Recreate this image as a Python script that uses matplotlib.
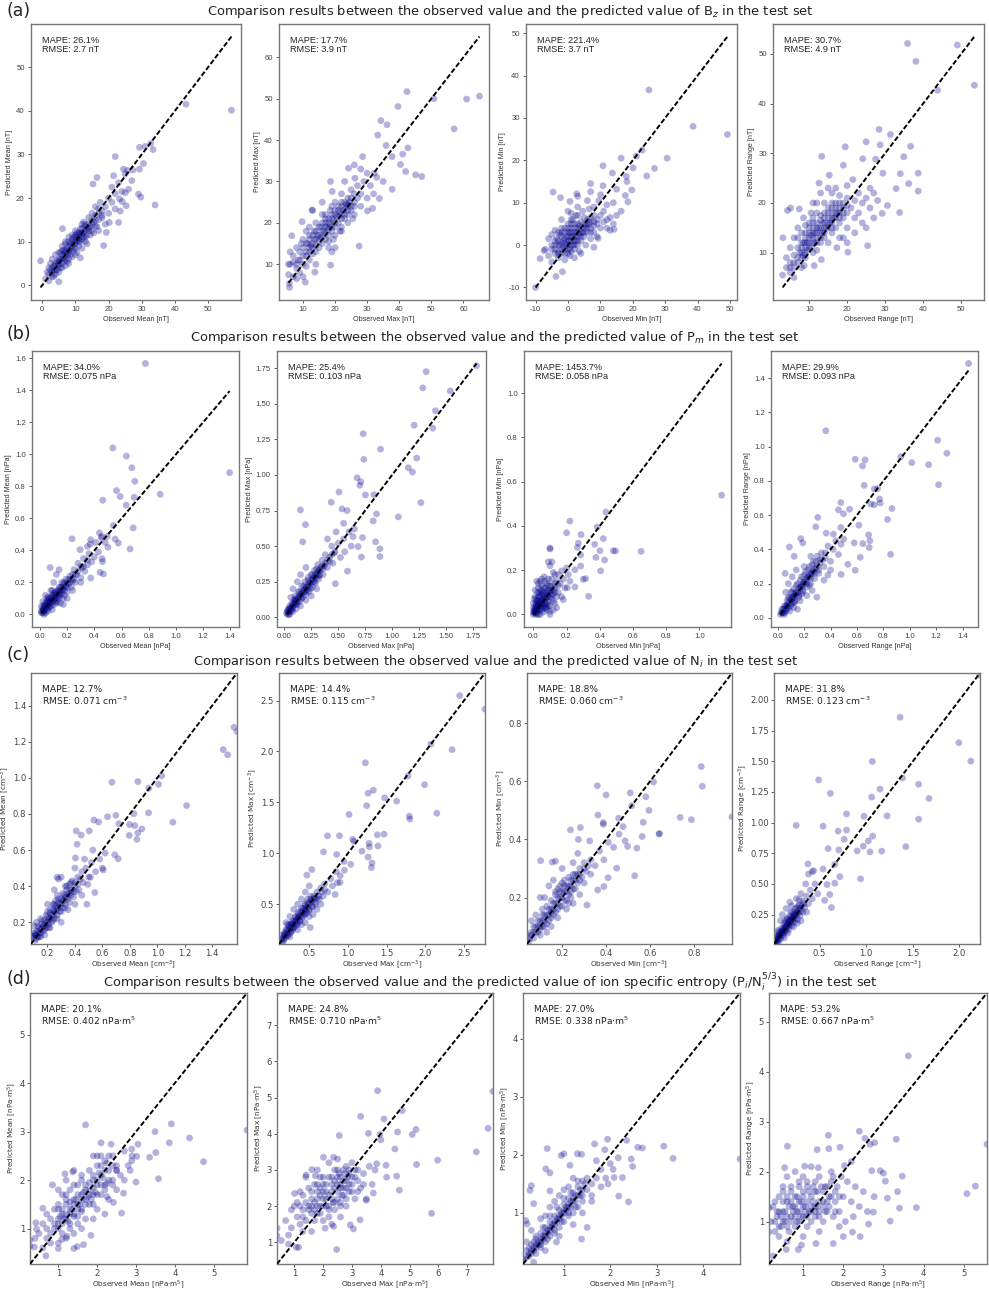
import numpy as np
import matplotlib
matplotlib.use("Agg")
import matplotlib.pyplot as plt
from matplotlib.ticker import MultipleLocator

plt.rcParams['axes.unicode_minus'] = False
plt.rcParams['mathtext.fontset'] = 'dejavusans'

W, H = 989, 1293

# ---------------- data: (observed, predicted) ----------------
bz_mean = [(57, 40.1), (43.3, 41.5), (34.0, 18.4), (33.4, 31.1), (32.7, 32.5), (30.5, 27.9), (29.3, 26.6),
           (29.0, 20.9), (29.7, 20.2), (29.3, 31.6), (31, 31.8), (22.0, 29.5), (25.3, 18.2), (24.1, 19.2),
           (23.0, 14.4), (23.5, 17), (25, 21.2), (24.5, 26.6), (25.7, 26.3), (27.3, 26.4), (21.5, 25.1),
           (18.5, 9.1), (16.5, 24.7), (15.3, 23.2), (-0.5, 5.6), (5.0, 0.8), (6.1, 13.0), (11.5, 6.3),
           (19.3, 12.1), (20.2, 14.4), (23.3, 19.8),
           (1, 1.5), (1.5, 3), (2, 2.5), (2, 4), (2.5, 5), (3, 3), (3, 6), (3.5, 4.5), (4, 5), (4, 7), (4.5, 3.5),
           (5, 6), (5, 4.5), (5.5, 7.5), (6, 5), (6, 8), (6.5, 6.5), (7, 7), (7, 9.5), (7.5, 5.5), (8, 8), (8, 10),
           (8.5, 7), (9, 9), (9, 11.5), (9.5, 8), (10, 10), (10, 12.5), (10.5, 7.5), (11, 11), (11, 9), (11.5, 13),
           (12, 10.5), (12, 12), (12.5, 14.5), (13, 11), (13, 13.5), (13.5, 9.5), (14, 12.5), (14, 15.5),
           (14.5, 11.5), (15, 14), (15, 16.5), (15.5, 12), (16, 15), (16, 18), (16.5, 13.5), (17, 16.5),
           (17, 12.5), (17.5, 19), (18, 15.5), (18, 17), (19, 18), (19, 14), (20, 20), (20, 16.5), (21, 19),
           (21, 22.5), (22, 21), (22, 17.5), (23, 23.5), (24, 21.5), (25, 25.5), (26, 22), (27, 24),
           (2, 1), (3, 2), (4, 3.5), (5, 3), (6, 6), (7, 4.5), (8, 6), (9, 6.5), (10, 8.5), (11, 10), (12, 8.5),
           (13, 10), (3.5, 2), (5, 5), (6, 9), (8, 11), (9, 10), (10, 11), (12, 14), (7, 8), (11, 12)]
bz_mean_core = [(3, 4), (3.5, 3.5), (4, 4.5), (4.5, 5.5), (5, 5.5), (5.5, 6), (5.5, 4), (6, 7), (6.5, 5.5),
                (6.5, 8), (7, 6), (7, 7.5), (7.5, 8.5), (7.5, 7), (8, 9), (8, 7.5), (8.5, 9.5), (8.5, 8), (9, 10.5),
                (9, 8.5), (9.5, 9.5), (9.5, 11), (10, 9.5), (10, 11.5), (10.5, 10.5), (10.5, 12), (11, 11.5),
                (11, 10.5), (11.5, 12), (11.5, 10), (12, 11.5), (12, 13), (12.5, 12), (12.5, 11), (13, 12.5),
                (13, 14), (13.5, 13), (13.5, 11.5), (14, 14), (14, 13), (14.5, 13.5), (15, 15), (15, 12.5),
                (15.5, 14.5), (16, 16), (16, 13.5), (17, 15), (17, 17.5), (18, 16), (6, 4), (4, 2.5), (2.5, 3.5),
                (8, 5), (10, 7), (7, 10), (5, 7.5)]

bz_max = [(65.0, 50.6), (61.0, 49.9), (57.1, 42.7), (50.8, 50), (42.4, 51.7), (39.6, 48.1), (42.7, 38.1),
          (41.1, 36.6), (40.4, 34.1), (42.0, 32.4), (45.1, 31.6), (47.0, 31.2), (34.3, 44.7), (36.2, 43.7),
          (33.3, 41.2), (35.9, 38.7), (37.8, 36), (37.8, 28.1), (33.8, 25.9), (31.7, 23.5), (30.1, 22.9),
          (27.5, 14.4), (18.6, 9.8), (10.7, 5.7), (13.7, 8.1), (5.8, 5.4), (5.8, 4.4), (6.5, 16.9), (18.6, 30),
          (12.8, 23.1), (9.7, 20.3), (24.2, 33.2), (28.6, 36), (26.2, 30.8), (32.2, 32), (19.1, 27.6),
          (6, 10), (6, 13), (7, 7), (7, 12), (8, 9), (8, 14), (8.5, 11), (9, 8), (9, 13), (9.5, 15), (10, 10),
          (10, 12), (10, 16), (11, 9.5), (11, 13), (11.5, 15), (12, 11), (12, 14), (12, 17), (13, 12.5),
          (13, 15), (13.5, 18), (14, 13), (14, 16), (14, 20), (15, 14), (15, 17), (15.5, 19), (16, 15),
          (16, 18), (16, 22), (17, 16), (17, 19), (17, 21), (18, 17), (18, 20), (18.5, 23), (19, 18), (19, 21),
          (19.5, 16), (20, 19), (20, 22), (20, 25), (21, 20), (21, 23), (21.5, 18), (22, 21), (22, 24),
          (22, 27), (23, 22), (23, 25), (24, 20), (24, 23), (24, 26), (25, 24), (25, 28), (25.5, 21), (26, 25),
          (26, 22), (27, 26), (27, 29), (28, 24), (28, 27), (29, 30), (30, 26), (31, 29), (32, 27), (33, 31),
          (35, 30), (30, 32), (26, 34), (28, 33), (23, 30), (13, 23), (16, 25), (14, 10), (19, 13), (20, 14),
          (22, 18), (10, 7), (8, 6.5), (5.5, 10), (5.5, 7.5), (7, 10.5), (12, 19), (11, 18), (18, 14)]
bz_max_core = [(12, 13), (12.5, 14.5), (13, 14), (13.5, 16), (14, 14.5), (14.5, 17), (15, 15.5), (15, 19),
               (15.5, 16.5), (16, 16.5), (16, 20), (16.5, 18), (17, 17.5), (17, 20), (17.5, 19), (18, 18.5),
               (18, 21), (18.5, 19.5), (19, 19), (19, 22), (19.5, 20.5), (20, 20), (20, 23), (20.5, 21.5),
               (21, 21.5), (21, 24), (21.5, 22.5), (22, 22), (22, 25), (22.5, 23), (23, 23.5), (23, 21),
               (23.5, 24.5), (24, 24), (24, 22), (24.5, 25), (25, 23), (25, 26), (26, 24), (26, 27), (14, 18),
               (13, 17), (11, 15), (12, 16), (10, 14), (18, 15.5), (20, 17), (22, 19), (24, 24.5), (17, 22),
               (19, 24), (11, 12), (9, 11), (8, 10)]

bz_min = [(-10, -10), (49.2, 26.1), (38.6, 28), (25, 36.6), (30.6, 20.5), (26.7, 18.1), (24.3, 16.3),
          (22.9, 22.4), (21.1, 21), (20.1, 18.2), (19.7, 13), (18.5, 10.2), (18.2, 15), (18, 16.2),
          (16.4, 20.5), (16.4, 8), (17.7, 11.7), (15, 13.2), (13.7, 17), (10.8, 18.7), (10.8, 14), (7, 14.5),
          (7, 12.6), (2.7, 12.1), (0.6, 10.3), (-2.3, 11.2), (-4.6, 12.5), (-3.7, -7.4), (-1.7, -6.3),
          (-8.6, -3.2), (-7.4, -1.3), (9.3, 1.6), (14.2, 3.7), (12.1, 6), (10.1, 11.9),
          (-5, 0), (-5, 2.5), (-4, -2), (-4, 1), (-3, -3), (-3, 0), (-3, 3), (-2, -1), (-2, 2), (-2, 4),
          (-1, -2), (-1, 0.5), (-1, 3), (0, -1), (0, 1), (0, 3), (0, 5), (0.5, -2.5), (1, 0), (1, 2), (1, 4),
          (1.5, 6), (2, -1), (2, 1), (2, 3), (2, 5), (2.5, 7), (3, 0), (3, 2), (3, 4), (3.5, -1.5), (4, 1),
          (4, 3), (4, 5.5), (4.5, 8), (5, 2), (5, 4), (5, 6.5), (5.5, 0), (6, 3), (6, 5), (6.5, 8.5), (7, 1.5),
          (7, 4), (7, 6.5), (8, 3), (8, 5.5), (8, 9), (9, 2), (9, 6), (9.5, 10.5), (10, 4), (10, 7), (11, 5.5),
          (11, 8), (12, 4), (12, 9.5), (13, 6.5), (13, 3.5), (14, 5), (14, 10), (15, 7), (-6, -2.5), (-5, -4),
          (-1, -3.5), (2, -3), (-7, -1), (-6, 1.5), (-2, 6), (0, 8), (3, 9), (6, 10.5), (8, -0.5), (4, -2),
          (-4, 3.5), (1, 7.5), (3, 11.5)]
bz_min_core = [(-4, -1), (-4, 0), (-3.5, 1.5), (-3, -1.5), (-3, 1), (-2.5, 0), (-2.5, 2.5), (-2, -2),
               (-2, 0.5), (-2, 3), (-1.5, 1), (-1.5, -0.5), (-1, 1.5), (-1, 4), (-0.5, 0), (-0.5, 2), (0, 0),
               (0, 2), (0, 4), (0.5, 1), (0.5, 3), (0.5, -1), (1, 1), (1, 3), (1, 5), (1.5, 2), (1.5, 0), (2, 2),
               (2, 4), (2, 0), (2.5, 3), (2.5, 1), (3, 3), (3, 5), (3, 1), (3.5, 2.5), (3.5, 4.5), (4, 4), (4, 2),
               (4.5, 3), (5, 5), (5, 3), (5.5, 4.5), (6, 4), (6, 6), (6.5, 5), (7, 3), (7, 5.5), (8, 4.5), (8, 7),
               (9, 5), (-1, -1), (0, -2), (1, -1.5), (-3, -2), (-5, -1), (3, 7), (1, 6)]

bz_range = [(35.9, 52.1), (49, 51.8), (38.1, 48.5), (43.8, 42.7), (53.5, 43.7), (28.4, 34.8), (31.4, 33.8),
            (25, 32.3), (19.5, 31.3), (13.3, 29.4), (28.7, 31.7), (36.7, 31.4), (34.9, 29.3), (19, 27.6),
            (24.1, 28.9), (27.5, 28.8), (29.4, 26), (34, 25.9), (38.7, 26), (38.7, 22.4), (36.2, 23.9),
            (32.9, 22.9), (33.8, 18.1), (29.2, 17.9), (30.6, 19.5), (25.4, 11.4), (20.2, 10.1), (17.3, 11),
            (13.2, 8.6), (8.7, 7.4), (11.3, 7.4), (3.1, 13), (4.3, 18.5), (5.1, 19), (7.4, 18.8), (12.6, 24),
            (15.3, 25.6), (21.5, 24.7),
            (3, 5.5), (4, 7), (4, 9), (5, 6), (5, 8), (5, 11), (6, 7), (6, 9.5), (6, 13), (7, 8), (7, 11), (7, 15),
            (8, 9), (8, 12), (8, 14), (8.5, 17), (9, 10), (9, 13), (9, 15.5), (10, 11), (10, 13), (10, 15),
            (10.5, 18), (11, 12), (11, 14), (11, 16), (12, 10.5), (12, 13), (12, 15), (12, 18), (13, 12),
            (13, 14), (13, 16.5), (14, 13), (14, 15), (14, 17), (14, 20), (15, 12), (15, 16), (15, 18), (16, 14),
            (16, 17), (16, 19), (16, 22), (17, 15), (17, 18), (17, 20), (18, 16), (18, 19), (18, 21.5), (19, 13),
            (19, 17), (19, 20), (20, 18), (20, 21), (20, 15), (21, 19), (22, 17), (22, 20.5), (23, 22), (23, 18),
            (24, 20), (24, 16), (25, 21), (26, 23), (26, 19), (27, 22), (28, 20.5), (27, 17), (25, 15), (22, 14),
            (20, 12), (18, 13), (11, 20), (13, 22), (15, 23), (9, 12), (11, 10), (8, 7), (6, 5), (17, 23),
            (20, 23.5)]
bz_range_core = [(7, 9), (7.5, 10), (8, 10), (8, 11), (8.5, 12), (8.5, 9.5), (9, 11), (9, 14), (9.5, 12),
                 (9.5, 10.5), (10, 12), (10, 14), (10, 16), (10.5, 11), (10.5, 13.5), (11, 13), (11, 15), (11, 17),
                 (11.5, 12), (11.5, 14), (12, 14), (12, 16), (12, 12), (12.5, 15), (13, 13), (13, 15), (13, 17.5),
                 (13.5, 14), (13.5, 16), (14, 14), (14, 16), (14, 18), (14.5, 15), (15, 15), (15, 17), (15, 19),
                 (15.5, 16), (16, 16), (16, 18), (16, 20), (16.5, 17), (17, 17), (17, 19), (17.5, 18), (18, 18),
                 (18, 20), (19, 19), (19, 18), (20, 19.5), (9, 9), (6, 8), (5, 7), (7, 13), (12, 20), (16, 15),
                 (18, 17)]

pm_mean = [(0.776, 1.568), (1.396, 0.886), (0.536, 1.041), (0.636, 0.99), (0.676, 0.917), (0.698, 0.832),
           (0.563, 0.774), (0.59, 0.737), (0.693, 0.732), (0.885, 0.751), (0.462, 0.714), (0.634, 0.683),
           (0.686, 0.541), (0.54, 0.556), (0.553, 0.471), (0.577, 0.446), (0.663, 0.409), (0.236, 0.473),
           (0.437, 0.51), (0.455, 0.488), (0.496, 0.488), (0.457, 0.349), (0.467, 0.253), (0.442, 0.263),
           (0.373, 0.228), (0.074, 0.293), (0.172, 0.062), (0.373, 0.467), (0.349, 0.425), (0.295, 0.405),
           (0.01, 0.01), (0.02, 0.03), (0.03, 0.02), (0.03, 0.05), (0.04, 0.04), (0.05, 0.06), (0.05, 0.03),
           (0.06, 0.08), (0.07, 0.05), (0.07, 0.1), (0.08, 0.07), (0.09, 0.12), (0.1, 0.09), (0.1, 0.06),
           (0.11, 0.14), (0.12, 0.1), (0.13, 0.13), (0.13, 0.08), (0.14, 0.17), (0.15, 0.12), (0.16, 0.15),
           (0.16, 0.2), (0.17, 0.1), (0.18, 0.17), (0.19, 0.22), (0.2, 0.14), (0.21, 0.19), (0.22, 0.24),
           (0.23, 0.17), (0.24, 0.21), (0.25, 0.28), (0.26, 0.2), (0.27, 0.25), (0.28, 0.32), (0.3, 0.23),
           (0.31, 0.29), (0.32, 0.35), (0.33, 0.27), (0.35, 0.31), (0.36, 0.38), (0.37, 0.44), (0.38, 0.33),
           (0.4, 0.36), (0.41, 0.45), (0.43, 0.39), (0.45, 0.48), (0.46, 0.33), (0.48, 0.45), (0.5, 0.42),
           (0.08, 0.15), (0.1, 0.2), (0.12, 0.25), (0.14, 0.28), (0.02, 0.08), (0.04, 0.12), (0.06, 0.02),
           (0.09, 0.03), (0.15, 0.07), (0.2, 0.1), (0.24, 0.15), (0.3, 0.2), (0.05, 0.1), (0.01, 0.05),
           (0.03, 0.0), (0.06, 0.04), (0.11, 0.08), (0.02, 0.01)]
pm_mean_core = [(0.01, 0.02), (0.02, 0.02), (0.02, 0.04), (0.03, 0.03), (0.03, 0.06), (0.04, 0.05),
                (0.04, 0.07), (0.05, 0.05), (0.05, 0.08), (0.06, 0.06), (0.06, 0.09), (0.07, 0.07), (0.07, 0.08),
                (0.08, 0.09), (0.08, 0.11), (0.09, 0.08), (0.09, 0.1), (0.1, 0.11), (0.1, 0.13), (0.11, 0.1),
                (0.11, 0.12), (0.12, 0.12), (0.12, 0.14), (0.13, 0.11), (0.13, 0.15), (0.14, 0.13), (0.14, 0.15),
                (0.15, 0.14), (0.15, 0.17), (0.16, 0.13), (0.16, 0.17), (0.17, 0.16), (0.17, 0.19), (0.18, 0.15),
                (0.18, 0.2), (0.19, 0.18), (0.2, 0.2), (0.2, 0.17), (0.21, 0.22), (0.22, 0.2), (0.23, 0.22),
                (0.24, 0.25), (0.25, 0.22), (0.26, 0.25), (0.28, 0.27), (0.3, 0.3), (0.32, 0.3), (0.35, 0.34),
                (0.04, 0.01), (0.08, 0.05), (0.12, 0.07), (0.06, 0.11), (0.09, 0.15), (0.14, 0.1), (0.18, 0.12)]

pm_max = [(1.782, 1.767), (1.315, 1.725), (1.284, 1.611), (1.539, 1.59), (1.402, 1.45), (1.377, 1.328),
          (1.203, 1.349), (1.228, 1.118), (1.15, 1.05), (1.188, 1.02), (1.266, 0.805), (1.057, 0.705),
          (0.731, 1.289), (0.892, 1.181), (0.737, 1.109), (0.675, 0.98), (0.709, 0.952), (0.7, 0.927),
          (0.752, 0.859), (0.83, 0.861), (0.507, 0.88), (0.435, 0.808), (0.535, 0.761), (0.582, 0.749),
          (0.149, 0.754), (0.196, 0.651), (0.171, 0.53), (0.855, 0.726), (0.824, 0.677), (0.846, 0.53),
          (0.886, 0.481), (0.886, 0.427), (0.715, 0.423), (0.585, 0.324), (0.473, 0.236), (0.637, 0.567),
          (0.725, 0.56), (0.684, 0.497),
          (0.02, 0.03), (0.03, 0.05), (0.04, 0.02), (0.05, 0.08), (0.06, 0.05), (0.07, 0.1), (0.08, 0.07),
          (0.09, 0.12), (0.1, 0.09), (0.1, 0.15), (0.11, 0.06), (0.12, 0.13), (0.13, 0.18), (0.14, 0.11),
          (0.15, 0.16), (0.16, 0.22), (0.17, 0.14), (0.18, 0.19), (0.19, 0.25), (0.2, 0.16), (0.21, 0.21),
          (0.22, 0.28), (0.23, 0.18), (0.24, 0.24), (0.25, 0.3), (0.26, 0.21), (0.27, 0.27), (0.28, 0.33),
          (0.29, 0.24), (0.3, 0.3), (0.31, 0.37), (0.32, 0.27), (0.33, 0.33), (0.35, 0.4), (0.36, 0.3),
          (0.37, 0.36), (0.38, 0.44), (0.4, 0.35), (0.42, 0.42), (0.44, 0.5), (0.45, 0.38), (0.47, 0.46),
          (0.5, 0.52), (0.52, 0.42), (0.55, 0.55), (0.56, 0.46), (0.6, 0.6), (0.62, 0.5), (0.65, 0.62),
          (0.06, 0.14), (0.08, 0.2), (0.12, 0.25), (0.15, 0.3), (0.2, 0.35), (0.05, 0.02), (0.15, 0.08),
          (0.2, 0.12), (0.3, 0.2), (0.25, 0.15), (0.4, 0.55), (0.48, 0.6), (0.55, 0.66), (0.03, 0.02),
          (0.04, 0.06), (0.08, 0.04), (0.11, 0.1)]
pm_max_core = [(0.03, 0.04), (0.04, 0.04), (0.05, 0.06), (0.06, 0.07), (0.07, 0.07), (0.08, 0.09), (0.09, 0.09),
               (0.1, 0.11), (0.11, 0.12), (0.12, 0.11), (0.13, 0.14), (0.14, 0.15), (0.15, 0.14), (0.16, 0.17),
               (0.17, 0.18), (0.18, 0.17), (0.19, 0.2), (0.2, 0.21), (0.21, 0.19), (0.22, 0.23), (0.23, 0.24),
               (0.24, 0.22), (0.25, 0.26), (0.26, 0.27), (0.27, 0.25), (0.28, 0.29), (0.29, 0.3), (0.3, 0.28),
               (0.31, 0.32), (0.32, 0.33), (0.33, 0.3), (0.34, 0.35), (0.35, 0.36), (0.36, 0.34), (0.38, 0.38),
               (0.4, 0.4), (0.42, 0.39), (0.44, 0.44), (0.46, 0.45), (0.1, 0.13), (0.14, 0.18), (0.18, 0.22),
               (0.22, 0.26), (0.26, 0.3), (0.3, 0.34), (0.12, 0.09), (0.16, 0.13), (0.2, 0.18), (0.24, 0.2),
               (0.28, 0.25), (0.32, 0.29), (0.07, 0.05), (0.05, 0.04), (0.09, 0.1)]

pm_min = [(1.134, 0.539), (0.437, 0.463), (0.385, 0.395), (0.22, 0.422), (0.2, 0.369), (0.287, 0.361),
          (0.271, 0.322), (0.265, 0.303), (0.285, 0.269), (0.421, 0.343), (0.401, 0.288), (0.377, 0.258),
          (0.429, 0.246), (0.405, 0.197), (0.369, 0.317), (0.481, 0.288), (0.495, 0.287), (0.649, 0.285),
          (0.333, 0.082), (0.285, 0.219), (0.25, 0.202), (0.3, 0.159), (0.315, 0.162), (0.25, 0.124),
          (0.1, 0.296), (0.112, 0.238), (0.09, 0.238), (0.17, 0.197), (0.204, 0.121), (0.18, 0.067),
          (0.1, 0.014),
          (0.0, 0.0), (0.005, 0.01), (0.01, 0.02), (0.01, 0.005), (0.015, 0.04), (0.02, 0.01), (0.02, 0.06),
          (0.02, 0.03), (0.025, 0.1), (0.03, 0.02), (0.03, 0.05), (0.03, 0.12), (0.035, 0.08), (0.04, 0.03),
          (0.04, 0.15), (0.045, 0.06), (0.05, 0.1), (0.05, 0.02), (0.055, 0.04), (0.06, 0.07), (0.06, 0.12),
          (0.065, 0.17), (0.07, 0.05), (0.07, 0.09), (0.075, 0.03), (0.08, 0.08), (0.08, 0.14), (0.085, 0.11),
          (0.09, 0.06), (0.09, 0.16), (0.1, 0.1), (0.1, 0.04), (0.11, 0.13), (0.11, 0.07), (0.12, 0.19),
          (0.12, 0.09), (0.13, 0.12), (0.13, 0.05), (0.14, 0.15), (0.15, 0.1), (0.15, 0.18), (0.16, 0.14),
          (0.17, 0.08), (0.18, 0.16), (0.19, 0.12), (0.2, 0.21), (0.21, 0.18), (0.22, 0.15), (0.005, 0.07),
          (0.01, 0.11), (0.02, 0.15), (0.0, 0.03), (0.04, 0.0), (0.06, 0.01), (0.08, 0.02), (0.12, 0.02),
          (0.14, 0.03), (0.1, 0.0), (0.03, 0.0), (0.05, 0.05), (0.07, 0.07), (0.02, 0.02), (0.04, 0.04),
          (0.09, 0.09), (0.11, 0.16), (0.13, 0.18), (0.1, 0.22), (0.1, 0.3)]
pm_min_core = [(0.0, 0.01), (0.005, 0.02), (0.01, 0.01), (0.01, 0.03), (0.015, 0.02), (0.015, 0.05), (0.02, 0.04),
               (0.02, 0.07), (0.025, 0.03), (0.025, 0.06), (0.03, 0.04), (0.03, 0.08), (0.035, 0.05),
               (0.035, 0.1), (0.04, 0.06), (0.04, 0.09), (0.045, 0.04), (0.045, 0.11), (0.05, 0.07),
               (0.05, 0.13), (0.055, 0.06), (0.055, 0.09), (0.06, 0.05), (0.06, 0.1), (0.065, 0.08), (0.07, 0.12),
               (0.07, 0.04), (0.075, 0.07), (0.08, 0.1), (0.08, 0.05), (0.085, 0.08), (0.09, 0.11), (0.09, 0.04),
               (0.1, 0.08), (0.1, 0.13), (0.11, 0.09), (0.12, 0.11), (0.12, 0.06), (0.13, 0.1), (0.14, 0.08),
               (0.02, 0.0), (0.04, 0.02), (0.06, 0.03), (0.08, 0.03), (0.0, 0.05), (0.01, 0.08), (0.03, 0.14),
               (0.05, 0.16), (0.07, 0.15), (0.09, 0.13), (0.11, 0.11), (0.13, 0.14), (0.15, 0.13)]

pm_range = [(1.446, 1.486), (1.211, 1.038), (1.282, 0.962), (1.143, 0.895), (1.016, 0.907), (0.933, 0.942),
            (1.219, 0.778), (0.364, 1.093), (0.587, 0.927), (0.662, 0.923), (0.642, 0.888), (0.655, 0.774),
            (0.731, 0.753), (0.756, 0.755), (0.771, 0.694), (0.776, 0.671), (0.705, 0.665), (0.731, 0.661),
            (0.865, 0.639), (0.832, 0.575), (0.478, 0.674), (0.46, 0.631), (0.544, 0.635), (0.498, 0.608),
            (0.303, 0.587), (0.288, 0.532), (0.367, 0.495), (0.422, 0.489), (0.478, 0.528), (0.614, 0.542),
            (0.688, 0.485), (0.698, 0.45), (0.693, 0.411), (0.625, 0.354), (0.855, 0.371), (0.587, 0.278),
            (0.579, 0.438), (0.645, 0.434), (0.174, 0.463), (0.19, 0.438), (0.088, 0.414), (0.124, 0.36),
            (0.056, 0.26), (0.296, 0.121), (0.48, 0.254), (0.531, 0.313),
            (0.02, 0.02), (0.03, 0.05), (0.04, 0.03), (0.05, 0.07), (0.06, 0.04), (0.07, 0.1), (0.08, 0.06),
            (0.09, 0.12), (0.1, 0.08), (0.1, 0.15), (0.11, 0.11), (0.12, 0.17), (0.13, 0.09), (0.14, 0.14),
            (0.15, 0.2), (0.16, 0.12), (0.17, 0.18), (0.18, 0.24), (0.19, 0.15), (0.2, 0.21), (0.21, 0.27),
            (0.22, 0.18), (0.23, 0.24), (0.24, 0.3), (0.25, 0.2), (0.26, 0.26), (0.27, 0.33), (0.28, 0.23),
            (0.29, 0.29), (0.3, 0.36), (0.31, 0.26), (0.32, 0.32), (0.33, 0.38), (0.35, 0.3), (0.36, 0.35),
            (0.38, 0.42), (0.4, 0.33), (0.42, 0.4), (0.44, 0.45), (0.46, 0.37), (0.48, 0.43), (0.5, 0.46),
            (0.06, 0.15), (0.08, 0.2), (0.11, 0.24), (0.14, 0.28), (0.05, 0.02), (0.12, 0.06), (0.17, 0.1),
            (0.22, 0.13), (0.26, 0.16), (0.2, 0.3), (0.25, 0.36), (0.15, 0.05), (0.09, 0.04), (0.03, 0.03),
            (0.07, 0.07), (0.13, 0.13), (0.19, 0.19), (0.35, 0.22), (0.4, 0.28), (0.38, 0.25)]
pm_range_core = [(0.03, 0.03), (0.04, 0.05), (0.05, 0.05), (0.06, 0.07), (0.07, 0.07), (0.08, 0.09), (0.09, 0.09),
                 (0.1, 0.11), (0.11, 0.12), (0.12, 0.12), (0.13, 0.14), (0.14, 0.15), (0.15, 0.15), (0.16, 0.17),
                 (0.17, 0.18), (0.18, 0.18), (0.19, 0.2), (0.2, 0.21), (0.21, 0.21), (0.22, 0.23), (0.23, 0.24),
                 (0.24, 0.24), (0.25, 0.26), (0.26, 0.27), (0.27, 0.27), (0.28, 0.29), (0.3, 0.3), (0.32, 0.34),
                 (0.34, 0.34), (0.36, 0.38), (0.08, 0.12), (0.11, 0.15), (0.14, 0.19), (0.17, 0.22), (0.2, 0.25),
                 (0.23, 0.28), (0.26, 0.31), (0.29, 0.33), (0.1, 0.07), (0.13, 0.1), (0.16, 0.13), (0.19, 0.16),
                 (0.22, 0.2), (0.25, 0.23), (0.28, 0.26), (0.31, 0.28), (0.05, 0.03), (0.07, 0.05), (0.12, 0.09),
                 (0.18, 0.14), (0.24, 0.19)]

ni_mean = [(1.58, 1.256), (1.558, 1.28), (1.48, 1.156), (1.512, 1.127), (1.213, 0.846), (1.113, 0.754),
           (1.031, 1.011), (1.009, 0.964), (0.938, 0.942), (0.858, 0.979), (0.669, 0.975), (0.936, 0.806),
           (0.887, 0.717), (0.858, 0.695), (0.851, 0.659), (0.836, 0.735), (0.829, 0.801), (0.798, 0.741),
           (0.698, 0.792), (0.637, 0.784), (0.538, 0.766), (0.572, 0.755), (0.504, 0.706), (0.409, 0.706),
           (0.445, 0.683), (0.416, 0.632), (0.404, 0.556), (0.715, 0.552), (0.69, 0.574), (0.72, 0.746),
           (0.795, 0.681), (0.606, 0.49), (0.62, 0.583), (0.487, 0.3), (0.545, 0.365), (0.513, 0.45),
           (0.494, 0.41), (0.27, 0.45),
           (0.09, 0.12), (0.1, 0.14), (0.11, 0.1), (0.12, 0.15), (0.13, 0.12), (0.14, 0.17), (0.15, 0.14),
           (0.16, 0.19), (0.17, 0.15), (0.18, 0.21), (0.19, 0.17), (0.2, 0.23), (0.21, 0.19), (0.22, 0.25),
           (0.23, 0.2), (0.24, 0.27), (0.25, 0.22), (0.26, 0.29), (0.27, 0.24), (0.28, 0.31), (0.29, 0.26),
           (0.3, 0.33), (0.31, 0.28), (0.32, 0.35), (0.33, 0.3), (0.34, 0.38), (0.35, 0.33), (0.36, 0.41),
           (0.37, 0.35), (0.38, 0.43), (0.39, 0.37), (0.4, 0.4), (0.42, 0.45), (0.43, 0.38), (0.45, 0.48),
           (0.46, 0.42), (0.48, 0.5), (0.5, 0.45), (0.52, 0.53), (0.55, 0.48), (0.58, 0.55), (0.6, 0.5),
           (0.28, 0.44), (0.3, 0.45), (0.25, 0.38), (0.2, 0.3), (0.15, 0.22), (0.12, 0.2), (0.1, 0.18),
           (0.3, 0.2), (0.35, 0.27), (0.4, 0.3), (0.45, 0.35), (0.22, 0.17), (0.18, 0.13), (0.14, 0.12),
           (0.24, 0.3), (0.33, 0.4), (0.27, 0.35), (0.4, 0.5), (0.47, 0.55), (0.53, 0.6), (0.08, 0.13)]
ni_mean_core = [(0.1, 0.12), (0.11, 0.13), (0.12, 0.13), (0.13, 0.15), (0.14, 0.14), (0.15, 0.16), (0.16, 0.17),
                (0.17, 0.18), (0.18, 0.18), (0.19, 0.2), (0.2, 0.2), (0.21, 0.22), (0.22, 0.22), (0.23, 0.24),
                (0.24, 0.24), (0.25, 0.26), (0.26, 0.26), (0.27, 0.28), (0.28, 0.28), (0.29, 0.3), (0.3, 0.3),
                (0.31, 0.32), (0.32, 0.32), (0.33, 0.34), (0.34, 0.34), (0.35, 0.36), (0.36, 0.36), (0.37, 0.38),
                (0.38, 0.38), (0.4, 0.42), (0.42, 0.41), (0.44, 0.44), (0.13, 0.18), (0.16, 0.21), (0.19, 0.24),
                (0.22, 0.27), (0.25, 0.3), (0.28, 0.33), (0.31, 0.36), (0.34, 0.4), (0.37, 0.42), (0.15, 0.12),
                (0.18, 0.16), (0.21, 0.17), (0.24, 0.21), (0.27, 0.22), (0.3, 0.26), (0.33, 0.28), (0.36, 0.31),
                (0.39, 0.34), (0.41, 0.37), (0.12, 0.11), (0.2, 0.26), (0.26, 0.32)]

ni_max = [(2.77, 2.416), (2.444, 2.548), (2.345, 2.018), (2.071, 2.072), (1.989, 1.674), (2.148, 1.394),
          (1.792, 1.365), (1.8, 1.336), (1.775, 1.76), (1.629, 1.513), (1.474, 1.545), (1.328, 1.619),
          (1.26, 1.59), (1.242, 1.468), (1.225, 1.889), (1.015, 1.381), (1.466, 1.188), (1.38, 1.182),
          (1.388, 1.072), (1.273, 1.098), (1.277, 1.063), (1.26, 0.963), (1.303, 0.86), (1.311, 0.905),
          (1.182, 1.021), (1.079, 1.117), (1.062, 1.137), (1.036, 0.892), (0.955, 0.834), (0.856, 0.989),
          (0.891, 1.172), (0.736, 1.172), (0.685, 1.014), (0.899, 0.715), (0.835, 0.596), (0.865, 0.712),
          (0.513, 0.272), (0.47, 0.786), (0.534, 0.841),
          (0.11, 0.13), (0.13, 0.15), (0.15, 0.2), (0.17, 0.14), (0.18, 0.22), (0.2, 0.18), (0.21, 0.25),
          (0.23, 0.2), (0.24, 0.28), (0.26, 0.23), (0.27, 0.31), (0.29, 0.26), (0.3, 0.34), (0.32, 0.28),
          (0.33, 0.37), (0.35, 0.31), (0.36, 0.4), (0.38, 0.34), (0.39, 0.43), (0.41, 0.37), (0.42, 0.46),
          (0.44, 0.4), (0.45, 0.49), (0.47, 0.42), (0.48, 0.52), (0.5, 0.45), (0.52, 0.55), (0.54, 0.48),
          (0.56, 0.58), (0.58, 0.5), (0.6, 0.62), (0.63, 0.55), (0.65, 0.66), (0.68, 0.58), (0.7, 0.7),
          (0.74, 0.62), (0.78, 0.75), (0.8, 0.68), (0.85, 0.82), (0.9, 0.78), (0.95, 0.92), (0.3, 0.45),
          (0.35, 0.5), (0.4, 0.55), (0.25, 0.38), (0.2, 0.32), (0.45, 0.62), (0.5, 0.68), (0.35, 0.25),
          (0.45, 0.32), (0.55, 0.4), (0.6, 0.45), (0.25, 0.18), (0.4, 0.3), (0.18, 0.16), (0.28, 0.24),
          (0.5, 0.38), (0.65, 0.5), (0.15, 0.13), (0.22, 0.3), (0.32, 0.33)]
ni_max_core = [(0.15, 0.16), (0.17, 0.18), (0.19, 0.2), (0.21, 0.22), (0.23, 0.24), (0.25, 0.26), (0.27, 0.27),
               (0.29, 0.3), (0.31, 0.31), (0.33, 0.34), (0.35, 0.35), (0.37, 0.38), (0.39, 0.39), (0.41, 0.42),
               (0.43, 0.43), (0.45, 0.46), (0.47, 0.47), (0.49, 0.5), (0.51, 0.51), (0.53, 0.53), (0.55, 0.55),
               (0.57, 0.56), (0.2, 0.25), (0.24, 0.3), (0.28, 0.33), (0.32, 0.38), (0.36, 0.42), (0.4, 0.46),
               (0.44, 0.5), (0.48, 0.55), (0.22, 0.19), (0.26, 0.22), (0.3, 0.27), (0.34, 0.3), (0.38, 0.33),
               (0.42, 0.38), (0.46, 0.41), (0.5, 0.44), (0.54, 0.47), (0.58, 0.52), (0.62, 0.58), (0.66, 0.62),
               (0.7, 0.64), (0.18, 0.2), (0.27, 0.3), (0.36, 0.37), (0.45, 0.44), (0.52, 0.58), (0.6, 0.56)]

ni_min = [(0.973, 0.478), (0.833, 0.651), (0.838, 0.583), (0.737, 0.476), (0.788, 0.468), (0.616, 0.598),
          (0.595, 0.5), (0.581, 0.547), (0.569, 0.459), (0.564, 0.41), (0.641, 0.419), (0.517, 0.516),
          (0.51, 0.56), (0.4, 0.553), (0.36, 0.585), (0.363, 0.484), (0.387, 0.458), (0.387, 0.452),
          (0.457, 0.473), (0.477, 0.444), (0.486, 0.395), (0.459, 0.418), (0.498, 0.376), (0.54, 0.37),
          (0.53, 0.275), (0.643, 0.42), (0.434, 0.373), (0.448, 0.301), (0.409, 0.268), (0.39, 0.238),
          (0.362, 0.226), (0.238, 0.433), (0.283, 0.441), (0.274, 0.4), (0.271, 0.352), (0.325, 0.395),
          (0.102, 0.327), (0.155, 0.322), (0.17, 0.325), (0.313, 0.174),
          (0.05, 0.06), (0.06, 0.08), (0.07, 0.06), (0.08, 0.1), (0.09, 0.08), (0.1, 0.12), (0.11, 0.1),
          (0.12, 0.14), (0.13, 0.11), (0.14, 0.16), (0.15, 0.13), (0.16, 0.18), (0.17, 0.15), (0.18, 0.2),
          (0.19, 0.17), (0.2, 0.22), (0.21, 0.19), (0.22, 0.24), (0.23, 0.21), (0.24, 0.26), (0.25, 0.23),
          (0.26, 0.28), (0.27, 0.25), (0.28, 0.3), (0.29, 0.27), (0.3, 0.32), (0.31, 0.29), (0.33, 0.33),
          (0.35, 0.31), (0.37, 0.36), (0.39, 0.33), (0.41, 0.39), (0.12, 0.2), (0.14, 0.24), (0.16, 0.26),
          (0.2, 0.3), (0.25, 0.32), (0.22, 0.16), (0.25, 0.18), (0.28, 0.21), (0.18, 0.13), (0.15, 0.1),
          (0.1, 0.07), (0.08, 0.14), (0.1, 0.2), (0.06, 0.12), (0.13, 0.08), (0.17, 0.22), (0.21, 0.26),
          (0.24, 0.2), (0.3, 0.25), (0.33, 0.28), (0.04, 0.07), (0.11, 0.16), (0.19, 0.24)]
ni_min_core = [(0.06, 0.07), (0.07, 0.08), (0.08, 0.08), (0.09, 0.1), (0.1, 0.1), (0.11, 0.12), (0.12, 0.12),
               (0.13, 0.14), (0.14, 0.14), (0.15, 0.16), (0.16, 0.16), (0.17, 0.18), (0.18, 0.18), (0.19, 0.2),
               (0.2, 0.2), (0.21, 0.22), (0.22, 0.22), (0.23, 0.24), (0.24, 0.24), (0.25, 0.26), (0.26, 0.26),
               (0.27, 0.28), (0.28, 0.28), (0.3, 0.3), (0.32, 0.31), (0.09, 0.12), (0.11, 0.14), (0.13, 0.17),
               (0.15, 0.19), (0.17, 0.21), (0.19, 0.22), (0.21, 0.24), (0.23, 0.27), (0.25, 0.28), (0.1, 0.09),
               (0.12, 0.1), (0.14, 0.12), (0.16, 0.14), (0.18, 0.16), (0.2, 0.17), (0.22, 0.19), (0.24, 0.22),
               (0.26, 0.23), (0.28, 0.26), (0.07, 0.1), (0.15, 0.15), (0.2, 0.25), (0.18, 0.23), (0.23, 0.18),
               (0.05, 0.05)]

ni_range = [(2.22, 2.201), (1.363, 1.859), (1.993, 1.652), (2.122, 1.501), (1.065, 1.499), (0.489, 1.348),
            (0.615, 1.238), (1.058, 1.208), (1.147, 1.273), (1.388, 1.364), (1.561, 1.313), (1.673, 1.197),
            (1.223, 1.055), (1.561, 1.028), (1.424, 0.804), (1.165, 0.767), (1.04, 0.761), (1.068, 0.89),
            (1.022, 0.85), (0.968, 0.807), (0.903, 0.769), (0.939, 0.541), (0.975, 1.052), (0.788, 1.071),
            (0.788, 0.939), (0.698, 0.931), (0.763, 0.864), (0.705, 0.777), (0.59, 0.788), (0.536, 0.971),
            (0.248, 0.977), (0.662, 0.659), (0.716, 0.559), (0.662, 0.506), (0.579, 0.495), (0.608, 0.414),
            (0.626, 0.307), (0.554, 0.366), (0.374, 0.662), (0.435, 0.608), (0.536, 0.621),
            (0.01, 0.02), (0.02, 0.05), (0.03, 0.02), (0.04, 0.07), (0.05, 0.04), (0.06, 0.09), (0.07, 0.06),
            (0.08, 0.11), (0.09, 0.08), (0.1, 0.13), (0.11, 0.1), (0.12, 0.15), (0.13, 0.12), (0.14, 0.17),
            (0.15, 0.14), (0.16, 0.19), (0.17, 0.16), (0.18, 0.21), (0.19, 0.18), (0.2, 0.23), (0.21, 0.2),
            (0.22, 0.25), (0.23, 0.22), (0.24, 0.27), (0.25, 0.24), (0.26, 0.3), (0.27, 0.26), (0.28, 0.33),
            (0.3, 0.28), (0.32, 0.36), (0.34, 0.31), (0.36, 0.4), (0.38, 0.34), (0.4, 0.45), (0.42, 0.38),
            (0.45, 0.5), (0.48, 0.42), (0.08, 0.2), (0.1, 0.25), (0.14, 0.3), (0.18, 0.35), (0.22, 0.15),
            (0.26, 0.18), (0.3, 0.2), (0.12, 0.06), (0.16, 0.1), (0.05, 0.12), (0.2, 0.32), (0.3, 0.42),
            (0.35, 0.5), (0.38, 0.58), (0.42, 0.6), (0.36, 0.27), (0.02, 0.01), (0.06, 0.03), (0.15, 0.22),
            (0.25, 0.38)]
ni_range_core = [(0.02, 0.03), (0.03, 0.04), (0.04, 0.05), (0.05, 0.06), (0.06, 0.07), (0.07, 0.08), (0.08, 0.09),
                 (0.09, 0.1), (0.1, 0.11), (0.11, 0.12), (0.12, 0.13), (0.13, 0.14), (0.14, 0.15), (0.15, 0.16),
                 (0.16, 0.17), (0.17, 0.18), (0.18, 0.19), (0.19, 0.2), (0.2, 0.21), (0.21, 0.22), (0.22, 0.23),
                 (0.23, 0.24), (0.24, 0.25), (0.25, 0.26), (0.27, 0.28), (0.29, 0.3), (0.31, 0.32), (0.33, 0.34),
                 (0.06, 0.11), (0.09, 0.14), (0.12, 0.18), (0.15, 0.21), (0.18, 0.24), (0.21, 0.27), (0.24, 0.3),
                 (0.27, 0.32), (0.08, 0.05), (0.11, 0.08), (0.14, 0.11), (0.17, 0.13), (0.2, 0.16), (0.23, 0.19),
                 (0.26, 0.21), (0.29, 0.24), (0.32, 0.27), (0.03, 0.07), (0.04, 0.02), (0.13, 0.2), (0.19, 0.27),
                 (0.28, 0.37)]

ent_mean = [(5.86, 3.03), (4.74, 2.38), (4.38, 2.87), (3.91, 3.16), (3.86, 2.77), (3.49, 3.0), (3.51, 2.57),
            (3.35, 2.47), (3.58, 2.03), (3.0, 1.96), (1.70, 3.14), (2.1, 2.77), (2.36, 2.74), (2.63, 1.32),
            (2.68, 1.73), (1.84, 0.86), (1.65, 0.67), (1.4, 0.59), (1.49, 0.63), (1.0, 0.59), (0.68, 0.44),
            (0.38, 0.62), (0.27, 0.76), (0.27, 0.64), (0.85, 1.9), (0.6, 1.42), (1.17, 2.13), (1.37, 2.17),
            (2.89, 2.64), (3.05, 2.74), (2.89, 2.4), (3.02, 2.49), (2.85, 2.2), (2.5, 2.2), (2.25, 1.93),
            (2.25, 1.66), (2.42, 1.54), (0.42, 1.12), (0.44, 0.99), (1.09, 0.78), (1.22, 0.84),
            (0.5, 0.9), (0.6, 1.1), (0.7, 0.8), (0.8, 1.2), (0.9, 1.0), (0.9, 1.4), (1.0, 1.1), (1.0, 1.5),
            (1.1, 0.9), (1.1, 1.3), (1.2, 1.2), (1.2, 1.6), (1.3, 1.0), (1.3, 1.4), (1.3, 1.8), (1.4, 1.3),
            (1.4, 1.6), (1.5, 1.1), (1.5, 1.5), (1.5, 1.9), (1.6, 1.4), (1.6, 1.7), (1.6, 2.1), (1.7, 1.2),
            (1.7, 1.6), (1.7, 1.9), (1.8, 1.5), (1.8, 1.8), (1.8, 2.2), (1.9, 1.7), (1.9, 2.0), (2.0, 1.4),
            (2.0, 1.9), (2.0, 2.3), (2.1, 1.7), (2.1, 2.1), (2.2, 1.9), (2.2, 2.4), (2.3, 1.6), (2.3, 2.2),
            (2.4, 2.0), (2.4, 2.5), (2.5, 1.8), (2.5, 2.3), (2.6, 2.1), (2.7, 2.6), (2.8, 2.3), (1.0, 1.8),
            (1.2, 2.0), (1.4, 2.2), (0.7, 1.3), (0.8, 0.7), (1.0, 0.7), (1.2, 0.8), (1.4, 0.9), (1.6, 1.0),
            (1.9, 1.2), (2.2, 1.3), (1.1, 1.7), (1.9, 2.5), (2.1, 2.5), (0.6, 0.6), (0.4, 0.8), (2.7, 2.0),
            (2.9, 2.5)]
ent_mean_core = [(0.9, 1.1), (1.0, 1.2), (1.0, 1.0), (1.05, 1.25), (1.1, 1.1), (1.1, 1.4), (1.15, 1.2), (1.2, 1.3),
                 (1.2, 1.5), (1.25, 1.15), (1.3, 1.3), (1.3, 1.55), (1.35, 1.4), (1.4, 1.5), (1.4, 1.25),
                 (1.45, 1.6), (1.5, 1.4), (1.5, 1.7), (1.55, 1.5), (1.6, 1.6), (1.6, 1.35), (1.65, 1.75),
                 (1.7, 1.5), (1.7, 1.8), (1.75, 1.65), (1.8, 1.7), (1.8, 1.95), (1.85, 1.6), (1.9, 1.85),
                 (1.9, 2.1), (1.95, 1.75), (2.0, 2.0), (2.0, 1.7), (2.05, 2.15), (2.1, 1.9), (2.1, 2.3),
                 (2.15, 2.05), (2.2, 2.2), (2.2, 1.8), (2.25, 2.35), (2.3, 2.0), (2.3, 2.5), (2.4, 2.3), (2.4, 1.9),
                 (2.5, 2.2), (1.0, 1.4), (1.2, 1.7), (1.4, 1.9), (1.6, 2.0), (0.8, 0.9), (0.7, 1.0), (1.3, 1.1),
                 (1.5, 1.25), (1.9, 1.5), (2.0, 2.5)]

ent_max = [(7.89, 5.17), (7.72, 4.15), (7.31, 3.5), (5.97, 3.27), (5.76, 1.8), (5.24, 3.15), (5.22, 4.12),
           (5.09, 3.98), (4.58, 4.05), (4.74, 4.64), (4.11, 4.41), (3.89, 5.19), (3.3, 4.48), (3.97, 3.98),
           (4.0, 3.83), (3.57, 4.01), (2.56, 3.95), (4.64, 2.44), (4.55, 2.83), (4.49, 3.58), (4.2, 2.8),
           (4.18, 3.13), (3.86, 3.17), (3.74, 2.36), (3.49, 2.16), (3.28, 1.62), (3.05, 1.37), (2.94, 1.48),
           (2.47, 0.8), (2.36, 1.44), (2.07, 1.39), (1.07, 0.86), (1.15, 0.86), (0.8, 0.95), (0.55, 1.05),
           (0.40, 1.19), (0.40, 1.39), (1.41, 2.86), (1.73, 2.84), (1.61, 3.01), (2.36, 3.35), (2.01, 3.35),
           (1.01, 2.35),
           (0.7, 1.6), (0.9, 1.4), (0.9, 1.9), (1.1, 1.7), (1.1, 2.1), (1.2, 1.5), (1.3, 1.9), (1.3, 2.3),
           (1.4, 1.6), (1.5, 2.0), (1.5, 2.5), (1.6, 1.8), (1.6, 2.2), (1.7, 2.6), (1.7, 1.6), (1.8, 2.0),
           (1.8, 2.4), (1.9, 2.8), (1.9, 1.8), (2.0, 2.2), (2.0, 2.6), (2.1, 2.0), (2.1, 2.4), (2.2, 2.8),
           (2.2, 1.7), (2.3, 2.2), (2.3, 2.6), (2.4, 3.0), (2.4, 1.9), (2.5, 2.4), (2.5, 2.8), (2.6, 2.1),
           (2.6, 2.6), (2.7, 3.0), (2.7, 2.3), (2.8, 2.7), (2.8, 2.0), (2.9, 2.9), (2.9, 2.4), (3.0, 2.6),
           (3.0, 3.2), (3.1, 2.2), (3.1, 2.8), (3.2, 3.0), (3.3, 2.5), (3.4, 2.9), (3.5, 2.2), (3.6, 3.1),
           (3.7, 2.6), (3.8, 3.0), (1.0, 2.0), (1.2, 2.4), (1.4, 2.8), (2.0, 1.6), (2.3, 1.5), (2.6, 1.7),
           (1.6, 1.3), (1.3, 1.3), (0.8, 1.2), (1.8, 3.0), (2.2, 3.2), (2.5, 3.3)]
ent_max_core = [(1.5, 1.9), (1.6, 2.0), (1.7, 2.1), (1.7, 1.9), (1.8, 2.2), (1.8, 1.8), (1.9, 2.3), (1.9, 2.0),
                (2.0, 2.4), (2.0, 2.0), (2.1, 2.2), (2.1, 2.6), (2.2, 2.3), (2.2, 2.0), (2.3, 2.4), (2.3, 2.8),
                (2.35, 2.1), (2.4, 2.5), (2.4, 2.7), (2.5, 2.6), (2.5, 2.2), (2.55, 2.9), (2.6, 2.5), (2.6, 2.8),
                (2.65, 2.3), (2.7, 2.7), (2.7, 2.5), (2.75, 2.9), (2.8, 2.5), (2.8, 3.1), (2.85, 2.8), (2.9, 2.6),
                (2.9, 3.0), (3.0, 2.8), (3.0, 2.4), (3.1, 3.0), (3.2, 2.7), (1.4, 2.1), (1.6, 2.4), (1.8, 2.6),
                (2.0, 2.8), (1.3, 1.7), (1.2, 2.0), (2.2, 1.9), (2.4, 2.1), (2.6, 2.0), (2.8, 2.2), (3.2, 2.4),
                (3.4, 2.6), (1.9, 2.5), (2.5, 3.0)]

ent_min = [(4.79, 1.93), (3.35, 1.94), (3.15, 2.15), (2.69, 2.12), (2.59, 2.13), (2.45, 1.93), (2.48, 1.8),
           (2.39, 1.19), (2.18, 1.29), (2.35, 2.25), (1.94, 2.27), (1.88, 2.09), (1.66, 2.19), (1.38, 2.01),
           (1.29, 2.02), (1.0, 2.02), (0.94, 1.99), (0.64, 2.11), (0.61, 1.76), (0.7, 1.69), (0.3, 1.47),
           (0.27, 1.39), (0.35, 1.16), (0.18, 0.87), (0.21, 0.81), (1.38, 0.55), (1.5, 0.75), (0.84, 0.5),
           (2.08, 1.61), (2.26, 1.61), (2.06, 1.75), (2.17, 1.95), (1.13, 1.82), (0.7, 1.38), (0.12, 0.18),
           (0.15, 0.2), (0.2, 0.35), (0.25, 0.25), (0.3, 0.45), (0.35, 0.35), (0.4, 0.55), (0.4, 0.3),
           (0.45, 0.45), (0.5, 0.65), (0.5, 0.4), (0.55, 0.55), (0.6, 0.75), (0.6, 0.5), (0.65, 0.65),
           (0.7, 0.85), (0.7, 0.6), (0.75, 0.75), (0.8, 0.95), (0.8, 0.65), (0.85, 0.85), (0.9, 1.05),
           (0.9, 0.75), (0.95, 0.95), (1.0, 1.15), (1.0, 0.85), (1.05, 1.05), (1.1, 1.25), (1.1, 0.95),
           (1.15, 1.1), (1.2, 1.35), (1.2, 1.0), (1.25, 1.2), (1.3, 1.45), (1.3, 1.1), (1.35, 1.3), (1.4, 1.55),
           (1.4, 1.2), (1.5, 1.4), (1.5, 1.6), (1.6, 1.5), (1.6, 1.3), (1.7, 1.6), (1.8, 1.45), (1.8, 1.75),
           (1.9, 1.6), (2.0, 1.85), (0.5, 0.9), (0.7, 1.1), (0.9, 1.3), (1.1, 1.45), (0.3, 0.7), (0.8, 1.2),
           (0.6, 0.95), (1.0, 1.4), (1.2, 1.6), (0.2, 0.5), (0.35, 0.15), (0.6, 0.35), (0.9, 0.6), (1.2, 0.8),
           (1.4, 1.0), (1.6, 1.2), (1.7, 1.9), (1.95, 1.5)]
ent_min_core = [(0.2, 0.25), (0.25, 0.3), (0.3, 0.35), (0.3, 0.3), (0.35, 0.4), (0.4, 0.4), (0.4, 0.45), (0.45, 0.5),
                (0.5, 0.5), (0.5, 0.55), (0.55, 0.6), (0.6, 0.6), (0.6, 0.65), (0.65, 0.7), (0.7, 0.7), (0.7, 0.75),
                (0.75, 0.8), (0.8, 0.8), (0.8, 0.85), (0.85, 0.9), (0.9, 0.9), (0.9, 0.95), (0.95, 1.0), (1.0, 1.0),
                (1.0, 1.05), (1.05, 1.1), (1.1, 1.1), (1.1, 1.15), (1.15, 1.2), (1.2, 1.2), (1.2, 1.25),
                (1.25, 1.3), (1.3, 1.3), (1.35, 1.4), (1.4, 1.4), (1.45, 1.5), (0.4, 0.6), (0.55, 0.75),
                (0.7, 0.95), (0.85, 1.1), (1.0, 1.25), (1.15, 1.35), (1.3, 1.55), (0.5, 0.45), (0.65, 0.55),
                (0.8, 0.7), (0.95, 0.85), (1.1, 1.0), (1.25, 1.1), (1.4, 1.3), (0.25, 0.4), (0.35, 0.5)]

ent_range = [(5.58, 2.55), (3.62, 4.32), (5.29, 1.71), (5.08, 1.56), (3.82, 1.28), (3.47, 1.91), (3.35, 1.6),
             (3.4, 1.27), (3.32, 2.65), (3.17, 1.01), (3.1, 1.47), (3.05, 1.81), (2.77, 1.5), (2.75, 1.19),
             (2.63, 0.95), (2.4, 2.81), (2.54, 2.67), (2.78, 2.58), (2.67, 2.55), (2.92, 2.02), (3.0, 1.97),
             (2.71, 2.02), (1.63, 2.73), (0.61, 2.51), (1.35, 2.44), (1.92, 2.49), (1.64, 2.46), (2.03, 2.12),
             (0.54, 2.08), (1.04, 2.11), (1.38, 2.08), (1.75, 0.56), (1.32, 0.56), (0.88, 0.44), (0.58, 0.44),
             (0.96, 0.53), (0.15, 1.27), (0.15, 0.79), (0.25, 0.31), (2.23, 0.79), (2.42, 0.7), (2.0, 0.7),
             (0.2, 1.0), (0.25, 1.3), (0.3, 0.8), (0.35, 1.1), (0.4, 1.5), (0.45, 0.9), (0.5, 1.2), (0.5, 1.7),
             (0.55, 1.0), (0.6, 1.4), (0.65, 0.8), (0.7, 1.1), (0.7, 1.6), (0.75, 1.3), (0.8, 0.9), (0.8, 1.5),
             (0.85, 1.2), (0.9, 1.7), (0.9, 1.0), (0.95, 1.4), (1.0, 1.1), (1.0, 1.6), (1.05, 1.3), (1.1, 0.9),
             (1.1, 1.8), (1.15, 1.2), (1.2, 1.5), (1.2, 1.0), (1.25, 1.7), (1.3, 1.3), (1.3, 1.1), (1.35, 1.6),
             (1.4, 1.2), (1.4, 1.9), (1.5, 1.4), (1.5, 1.0), (1.55, 1.7), (1.6, 1.2), (1.65, 1.5), (1.7, 1.8),
             (1.75, 1.1), (1.8, 1.4), (1.85, 1.7), (1.9, 1.2), (1.95, 1.9), (2.0, 1.5), (2.05, 1.0), (2.1, 1.8),
             (2.2, 1.4), (2.25, 1.1), (2.3, 1.7), (2.4, 1.3), (2.5, 1.6), (2.6, 1.2), (0.6, 1.9), (0.8, 2.0),
             (1.0, 1.9), (1.2, 2.1), (0.4, 0.7), (0.6, 0.6), (1.0, 0.7), (1.4, 0.8), (0.3, 1.4), (1.7, 2.0),
             (2.2, 2.2), (1.9, 0.9)]
ent_range_core = [(0.3, 1.0), (0.35, 1.2), (0.4, 0.9), (0.4, 1.2), (0.45, 1.1), (0.5, 1.0), (0.5, 1.4), (0.55, 1.2),
                  (0.6, 1.1), (0.6, 0.9), (0.65, 1.3), (0.7, 1.0), (0.7, 1.4), (0.75, 1.2), (0.8, 1.1), (0.8, 1.3),
                  (0.85, 1.0), (0.85, 1.5), (0.9, 1.2), (0.9, 1.4), (0.95, 1.1), (1.0, 1.3), (1.0, 1.5), (1.05, 1.2),
                  (1.1, 1.4), (1.1, 1.1), (1.15, 1.6), (1.2, 1.3), (1.2, 1.2), (1.25, 1.4), (1.3, 1.2), (1.3, 1.6),
                  (1.35, 1.3), (1.4, 1.4), (1.4, 1.1), (1.45, 1.7), (1.5, 1.3), (1.5, 1.6), (1.55, 1.2), (1.6, 1.4),
                  (1.6, 1.7), (1.65, 1.3), (1.7, 1.5), (1.75, 1.9), (1.8, 1.6), (1.8, 1.2), (1.9, 1.5), (0.5, 1.6),
                  (0.7, 1.7), (0.9, 1.8), (1.1, 1.7), (0.6, 1.5), (1.3, 1.8)]

stats = ['Mean', 'Max', 'Min', 'Range']
bz_mape = ['26.1%', '17.7%', '221.4%', '30.7%']
bz_rmse = ['2.7', '3.9', '3.7', '4.9']
pm_mape = ['34.0%', '25.4%', '1453.7%', '29.9%']
pm_rmse = ['0.075', '0.103', '0.058', '0.093']
ni_mape = ['12.7%', '14.4%', '18.8%', '31.8%']
ni_rmse = ['0.071', '0.115', '0.060', '0.123']
ent_mape = ['20.1%', '24.8%', '27.0%', '53.2%']
ent_rmse = ['0.402', '0.710', '0.338', '0.667']

# tick spacing (x, y) for every panel
bz_steps = [(10, 10), (10, 10), (10, 10), (10, 10)]
pm_steps = [(0.2, 0.2), (0.25, 0.25), (0.2, 0.2), (0.2, 0.2)]
ni_steps = [(0.2, 0.2), (0.5, 0.5), (0.2, 0.2), (0.5, 0.25)]
ent_steps = [(1, 1), (1, 1), (1, 1), (1, 1)]

rows = [
    dict(data=[bz_mean + bz_mean_core, bz_max + bz_max_core, bz_min + bz_min_core, bz_range + bz_range_core],
         mape=bz_mape, rmse=bz_rmse, steps=bz_steps,
         unit='nT', tight=False, font='Liberation Sans', top=24, bottom=300,
         cols=[(31, 241), (279, 489), (526, 737), (773, 984)],
         title='Comparison results between the observed value and the predicted value of B$_z$ in the test set',
         tx=510, ty=12, tag='(a)', tagy=11),
    dict(data=[pm_mean + pm_mean_core, pm_max + pm_max_core, pm_min + pm_min_core, pm_range + pm_range_core],
         mape=pm_mape, rmse=pm_rmse, steps=pm_steps,
         unit='nPa', tight=False, font='Liberation Sans', top=351, bottom=627,
         cols=[(32, 239), (277, 486), (524, 731), (771, 978)],
         title='Comparison results between the observed value and the predicted value of P$_m$ in the test set',
         tx=495, ty=337, tag='(b)', tagy=334),
    dict(data=[ni_mean + ni_mean_core, ni_max + ni_max_core, ni_min + ni_min_core, ni_range + ni_range_core],
         mape=ni_mape, rmse=ni_rmse, steps=ni_steps,
         unit='cm$^{-3}$', tight=True, font='DejaVu Sans', top=673, bottom=944,
         cols=[(31, 237), (279, 485), (527, 732), (774, 980)],
         title='Comparison results between the observed value and the predicted value of N$_i$ in the test set',
         tx=496, ty=661, tag='(c)', tagy=655),
    dict(data=[ent_mean + ent_mean_core, ent_max + ent_max_core, ent_min + ent_min_core,
               ent_range + ent_range_core],
         mape=ent_mape, rmse=ent_rmse, steps=ent_steps,
         unit='nPa$\\cdot$m$^5$', tight=True, font='DejaVu Sans', top=993, bottom=1264,
         cols=[(30, 247), (277, 493), (523, 740), (769, 987)],
         title='Comparison results between the observed value and the predicted value of ion specific '
               'entropy (P$_i$/N$_i^{5/3}$) in the test set',
         tx=490, ty=982, tag='(d)', tagy=979),
]

fig = plt.figure(figsize=(W / 100, H / 100), dpi=100)

for row in rows:
    fam = row['font']
    arial = fam == 'Liberation Sans'
    small = 5.2
    tick_fs = 5.6 if arial else 6.1
    tpad = 2 if arial else 1.0
    lpad = 2 if arial else 0.2
    for k in range(4):
        l, r = row['cols'][k]
        ax = fig.add_axes([l / W, 1 - row['bottom'] / H, (r - l) / W, (row['bottom'] - row['top']) / H])
        pts = np.array(row['data'][k], dtype=float)
        x, y = pts[:, 0], pts[:, 1]
        ax.scatter(x, y, s=24, color='#00008B', alpha=0.3, edgecolors='none', zorder=2)
        if row['tight']:
            lo = min(x.min(), y.min())
            hi = max(x.max(), y.max())
            ax.plot([lo, hi], [lo, hi], color='black', ls='--', dashes=(2.6, 1.2), lw=1.4, zorder=3)
            ax.set_xlim(lo, hi)
            ax.set_ylim(lo, hi)
        else:
            ax.plot([x.min(), x.max()], [x.min(), x.max()], color='black', ls='--',
                    dashes=(2.6, 1.2), lw=1.4, zorder=3)
        xs, ys = row['steps'][k]
        ax.xaxis.set_major_locator(MultipleLocator(xs))
        ax.yaxis.set_major_locator(MultipleLocator(ys))
        ax.tick_params(length=2.5, width=0.6, colors='#444444', labelsize=tick_fs, pad=tpad)
        for lab in ax.get_xticklabels() + ax.get_yticklabels():
            lab.set_family(fam)
        for sp in ax.spines.values():
            sp.set_color('#777777')
            sp.set_linewidth(1.0)
        unit = row['unit']
        ax.set_xlabel(f'Observed {stats[k]} [{unit}]', fontsize=small, family=fam, color='#333333',
                      labelpad=lpad)
        ax.set_ylabel(f'Predicted {stats[k]} [{unit}]', fontsize=small, family=fam, color='#333333',
                      labelpad=2 if arial else 1.2)
        ax.annotate(f"MAPE: {row['mape'][k]}\nRMSE: {row['rmse'][k]} {unit}", xy=(0, 1),
                    xycoords='axes fraction', xytext=(7.8, -8.6), textcoords='offset points',
                    ha='left', va='top', fontsize=6.6, family=fam, color='#222222', linespacing=1.05)
    fig.text(row['tx'] / W, 1 - row['ty'] / H, row['title'], ha='center', va='center',
             fontsize=9.4, family='DejaVu Sans', color='#222222')
    fig.text(7 / W, 1 - row['tagy'] / H, row['tag'], ha='left', va='center',
             fontsize=12.5, family='DejaVu Sans', color='#222222')

fig.savefig('out.png', dpi=100)
